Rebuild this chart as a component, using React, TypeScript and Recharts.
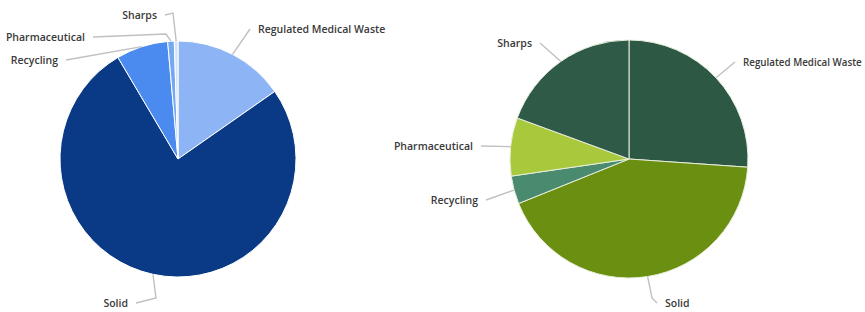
import { PieChart, Pie, Cell } from "recharts";

const categories = [
  "Regulated Medical Waste",
  "Solid",
  "Recycling",
  "Pharmaceutical",
  "Sharps",
];
const leftValues = [15.3, 76.2, 7.1, 0.9, 0.5];
const rightValues = [26.1, 42.8, 3.8, 7.9, 19.4];

const leftColors = ["#8db5f5", "#0a3a86", "#4b8bf0", "#75a8f2", "#d3e2f8"];
const rightColors = ["#2c5844", "#6b8f10", "#4a8a6f", "#a9c93c", "#2e5a47"];

// label text placement relative to pie centre: [dx, dy, anchor, elbowDx?, elbowDy?, fontSize?]
type LabelPos = [number, number, "start" | "end", number?, number?, number?];
const leftLabels: LabelPos[] = [
  [80, -130, "start"],
  [-50, 144, "end", -22, 139],
  [-120, -99, "end"],
  [-93, -122, "end", -12, -125],
  [-21, -144, "end", -5, -146],
];
const rightLabels: LabelPos[] = [
  [114, -97, "start", undefined, undefined, 9.8],
  [36, 144, "start", 23, 139],
  [-151, 41, "end"],
  [-156, -13, "end"],
  [-97, -116, "end"],
];

const leftData = categories.map((name, i) => ({ name, value: leftValues[i] }));
const rightData = categories.map((name, i) => ({ name, value: rightValues[i] }));

const RAD = Math.PI / 180;

function makeLabel(layout: LabelPos[]) {
  return (props: any) => {
    const { cx, cy, midAngle, outerRadius, index, name } = props;
    const [dx, dy, anchor, ex, ey, fs] = layout[index];
    const ax = cx + outerRadius * Math.cos(-midAngle * RAD);
    const ay = cy + outerRadius * Math.sin(-midAngle * RAD);
    const tx = cx + dx;
    const ty = cy + dy;
    const lx = anchor === "end" ? tx + 8 : tx - 8;
    const pts =
      ex !== undefined && ey !== undefined
        ? `M${ax},${ay} L${cx + ex},${cy + ey} L${lx},${ty}`
        : `M${ax},${ay} L${lx},${ty}`;
    return (
      <g key={`lbl-${index}`}>
        <path d={pts} stroke="#c0c0c0" strokeWidth={1.4} fill="none" />
        <text
          x={tx}
          y={ty}
          textAnchor={anchor}
          dominantBaseline="central"
          fill="#3a3a3a"
          fontSize={fs ?? 10.5}
          fontWeight={600}
          fontFamily="'Open Sans', sans-serif"
        >
          {name}
        </text>
      </g>
    );
  };
}

export default function App() {
  return (
    <div
      style={{
        position: "absolute",
        left: 0,
        top: 0,
        width: 865,
        height: 312,
        background: "#fff",
      }}
    >
      <PieChart
        width={865}
        height={312}
        margin={{ top: 0, right: 0, bottom: 0, left: 0 }}
      >
        <Pie
          data={leftData}
          dataKey="value"
          nameKey="name"
          cx={178}
          cy={159}
          outerRadius={118}
          startAngle={90}
          endAngle={-270}
          stroke="#fff"
          strokeWidth={1}
          label={makeLabel(leftLabels)}
          labelLine={false}
          isAnimationActive={false}
        >
          {leftData.map((d, i) => (
            <Cell key={d.name} fill={leftColors[i]} />
          ))}
        </Pie>
        <Pie
          data={rightData}
          dataKey="value"
          nameKey="name"
          cx={629}
          cy={159}
          outerRadius={119}
          startAngle={90}
          endAngle={-270}
          stroke="#e8eedc"
          strokeWidth={1}
          label={makeLabel(rightLabels)}
          labelLine={false}
          isAnimationActive={false}
        >
          {rightData.map((d, i) => (
            <Cell key={d.name} fill={rightColors[i]} />
          ))}
        </Pie>
      </PieChart>
    </div>
  );
}
